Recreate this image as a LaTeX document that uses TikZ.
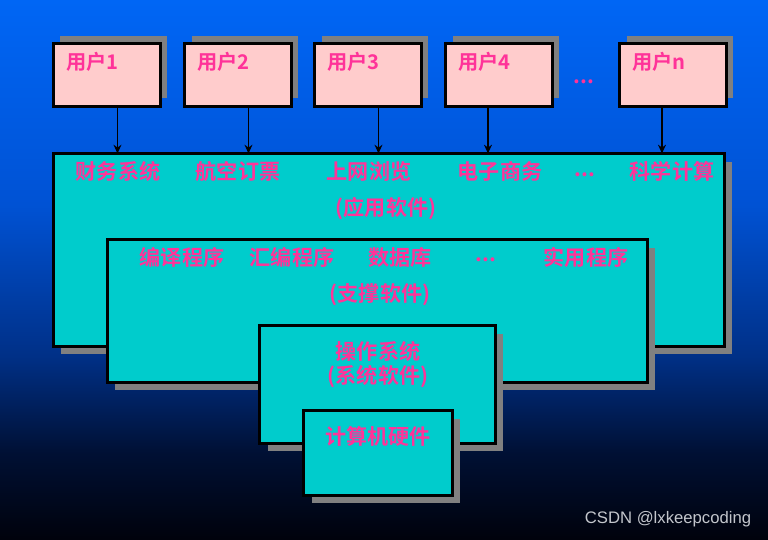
\documentclass[tikz,border=0pt]{standalone}
\usepackage{fontspec}
\usepackage{xcolor}
\usetikzlibrary{shadows,arrows.meta,calc}
\newfontfamily\cjkfont{Noto Sans CJK SC Bold}
\newfontfamily\wmfont{Liberation Sans}
\definecolor{bgtop}{RGB}{0,102,245}
\definecolor{bgmid}{RGB}{0,82,212}
\definecolor{bgdeep}{RGB}{0,48,135}
\definecolor{bgnavy}{RGB}{0,16,52}
\definecolor{bgblack}{RGB}{0,2,12}
\definecolor{userpink}{HTML}{FFCCCC}
\definecolor{layercyan}{HTML}{00CCCC}
\definecolor{labelpink}{HTML}{FF3399}
\definecolor{shadowgray}{HTML}{808080}
\definecolor{markgray}{RGB}{195,198,204}
\pgfdeclareverticalshading{screenbg}{100bp}{color(0bp)=(bgblack); color(25bp)=(bgblack); color(33bp)=(bgnavy); color(42bp)=(bgdeep); color(56bp)=(bgmid); color(75bp)=(bgtop); color(100bp)=(bgtop)}

\tikzset{
  userbox/.style={draw=black, line width=1.6pt, fill=userpink, anchor=north west,
    inner sep=0pt, outer sep=0pt, minimum width=2.14cm, minimum height=1.26cm,
    drop shadow={shadow xshift=0.14cm, shadow yshift=0.16cm, fill=shadowgray, opacity=1}},
  layerbox/.style={draw=black, line width=1.6pt, fill=layercyan, anchor=north west,
    inner sep=0pt, outer sep=0pt,
    drop shadow={shadow xshift=0.16cm, shadow yshift=-0.16cm, fill=shadowgray, opacity=1}},
  userlabel/.style={text=labelpink, font=\cjkfont\fontsize{11.5}{13}\selectfont, anchor=west, inner sep=0pt},
  layerlabel/.style={text=labelpink, font=\cjkfont\fontsize{12}{14}\selectfont, inner sep=0pt},
  arr/.style={-{Stealth[length=5pt,width=4.5pt]}, line width=1.1pt, black}
}

\begin{document}
\begin{tikzpicture}[x=0.02cm, y=-0.02cm]
  \shade[shading=screenbg] (0,0) rectangle (768,539);
  \useasboundingbox (0,0) rectangle (768,539);

  \node[layerbox, minimum width=13.42cm, minimum height=3.86cm] (app) at (53.5,153.5) {};
  \node[layerlabel] (app1) at (118,171) {财务系统};
  \node[layerlabel] (app2) at (238,171) {航空订票};
  \node[layerlabel] (app3) at (369,171) {上网浏览};
  \node[layerlabel] (app4) at (500,171) {电子商务};
  \node[layerlabel] (appdots) at (585,175) {...};
  \node[layerlabel] (app5) at (672,171) {科学计算};
  \node[layerlabel] (apptitle) at (386,209) {(应用软件)};

  \node[layerbox, minimum width=10.80cm, minimum height=2.86cm] (sup) at (107.5,239.5) {};
  \node[layerlabel] (sup1) at (182,257) {编译程序};
  \node[layerlabel] (sup2) at (292,257) {汇编程序};
  \node[layerlabel] (sup3) at (400,257) {数据库};
  \node[layerlabel] (supdots) at (486,260) {...};
  \node[layerlabel] (sup4) at (586,257) {实用程序};
  \node[layerlabel] (suptitle) at (380,295) {(支撑软件)};

  \node[layerbox, minimum width=4.72cm, minimum height=2.36cm] (os) at (259.5,325.5) {};
  \node[layerlabel] (os1) at (378,351) {操作系统};
  \node[layerlabel] (ostitle) at (378,377) {(系统软件)};

  \node[layerbox, minimum width=2.98cm, minimum height=1.70cm] (hw) at (303.5,410.5) {};
  \node[layerlabel] (hw1) at (378,436) {计算机硬件};

  \foreach \ux/\uname/\ax [count=\i] in {52/1/0.21cm,183/2/0.21cm,313/3/0.21cm,444/4/-0.22cm,618/n/-0.22cm} {
    \node[userbox] (u\i) at (\ux+1.5,43.5) {};
    \node[userlabel] (ul\i) at ($(u\i.north west)+(12.5,18.5)$) {用户\uname};
    \draw[arr] ([xshift=\ax]u\i.south) -- ([xshift=\ax]u\i.south |- app.north);
  }
  \node[layerlabel] (udots) at (584,82) {...};

  \node[text=markgray, font=\wmfont\fontsize{9.5}{11}\selectfont] (mark) at (668,519) {CSDN @lxkeepcoding};
\end{tikzpicture}
\end{document}
